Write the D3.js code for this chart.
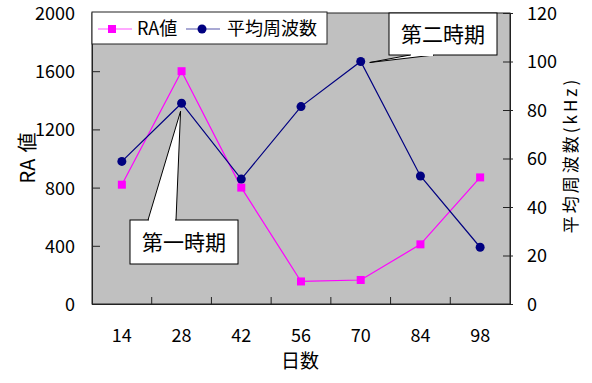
<!DOCTYPE html>
<html>
<head>
<meta charset="utf-8">
<script src="https://cdn.jsdelivr.net/npm/d3@7"></script>
<style>
  html, body { margin: 0; padding: 0; background: #fff; }
  svg { display: block; }
  text { font-family: "Noto Sans CJK JP", "Noto Sans", sans-serif; fill: #000; }
</style>
</head>
<body>
<svg id="chart" width="592" height="383"></svg>
<script>
// Measurement days
const days = ["14", "28", "42", "56", "70", "84", "98"];
// RA value per day (left axis)
const raValues = [820, 1600, 800, 155, 165, 410, 870];
// Average frequency per day in kHz (right axis)
const freqValues = [58.8, 82.8, 51.5, 81.4, 100, 52.8, 23.4];
// Tick labels
const leftTicks = [0, 400, 800, 1200, 1600, 2000];
const rightTicks = [0, 20, 40, 60, 80, 100, 120];

const svg = d3.select("#chart");
const m = { left: 92, right: 510, top: 13, bottom: 304 };

const x = d3.scaleBand().domain(days).range([m.left, m.right]);
const yL = d3.scaleLinear().domain([0, 2000]).range([m.bottom, m.top]);
const yR = d3.scaleLinear().domain([0, 120]).range([m.bottom, m.top]);
const cx = d => x(d) + x.bandwidth() / 2;

// plot area
svg.append("rect")
  .attr("x", m.left).attr("y", m.top)
  .attr("width", m.right - m.left).attr("height", m.bottom - m.top)
  .attr("fill", "#c0c0c0").attr("stroke", "#222").attr("stroke-width", 1);

// left axis
const gL = svg.append("g").attr("transform", `translate(${m.left},0)`)
  .call(d3.axisLeft(yL).tickValues(leftTicks).tickFormat(d3.format("d"))
    .tickSizeInner(-8).tickSizeOuter(0).tickPadding(17));
gL.select(".domain").attr("stroke", "#222");
gL.selectAll(".tick line").attr("stroke", "#222");
gL.selectAll(".tick text").style("font-size", "18px").attr("dy", "0.36em");

// right axis
const gR = svg.append("g").attr("transform", `translate(${m.right},0)`)
  .call(d3.axisRight(yR).tickValues(rightTicks).tickFormat(d3.format("d"))
    .tickSizeInner(3).tickSizeOuter(0).tickPadding(14));
gR.select(".domain").attr("stroke", "#222");
gR.selectAll(".tick line").attr("x1", -7).attr("stroke", "#222");
gR.selectAll(".tick text").style("font-size", "18px").attr("dy", "0.36em");

// bottom axis: tick marks sit on band boundaries, labels in band centres
const gB = svg.append("g").attr("transform", `translate(0,${m.bottom})`)
  .call(d3.axisBottom(x).tickSize(0).tickPadding(25));
gB.select(".domain").attr("stroke", "#222");
gB.selectAll(".tick text").style("font-size", "18px");
gB.selectAll(".sep").data(days.slice(1)).join("line")
  .attr("class", "sep")
  .attr("x1", d => x(d)).attr("x2", d => x(d))
  .attr("y1", 0).attr("y2", -7).attr("stroke", "#222");

// axis titles
const tL = svg.append("text").attr("transform", "translate(28,158) rotate(-90)")
  .attr("text-anchor", "middle").attr("dy", "0.36em").style("font-size", "20px");
tL.append("tspan").text("RA");
tL.append("tspan").attr("dx", 6).text("値");
svg.append("text").attr("transform", "translate(571,155) rotate(-90)")
  .attr("text-anchor", "middle").attr("dy", "0.36em")
  .style("font-size", "17px").style("letter-spacing", "3px").text("平均周波数(kHz)");
svg.append("text").attr("x", 300).attr("y", 368)
  .attr("text-anchor", "middle").style("font-size", "19px").text("日数");

// RA series
const lineL = d3.line().x((d, i) => cx(days[i])).y(d => yL(d));
svg.append("path").datum(raValues).attr("d", lineL)
  .attr("fill", "none").attr("stroke", "#ff00ff").attr("stroke-width", 1.2);
svg.selectAll(".ra").data(raValues).join("rect").attr("class", "ra")
  .attr("x", (d, i) => cx(days[i]) - 4).attr("y", d => yL(d) - 4)
  .attr("width", 8).attr("height", 8).attr("fill", "#ff00ff");

// frequency series
const lineR = d3.line().x((d, i) => cx(days[i])).y(d => yR(d));
svg.append("path").datum(freqValues).attr("d", lineR)
  .attr("fill", "none").attr("stroke", "#000080").attr("stroke-width", 1.2);
svg.selectAll(".fq").data(freqValues).join("circle").attr("class", "fq")
  .attr("cx", (d, i) => cx(days[i])).attr("cy", d => yR(d))
  .attr("r", 4.5).attr("fill", "#000080");

// callouts
function callout(bx, by, bw, bh, base1, base2, tip, label) {
  const g = svg.append("g");
  g.append("path")
    .attr("d", `M${base1[0]},${base1[1]}L${tip[0]},${tip[1]}L${base2[0]},${base2[1]}`)
    .attr("fill", "#fff").attr("stroke", "#000").attr("stroke-width", 1);
  g.append("rect").attr("x", bx).attr("y", by).attr("width", bw).attr("height", bh)
    .attr("fill", "#fff").attr("stroke", "#000").attr("stroke-width", 1);
  // cover the wedge base so the box outline stays open there
  g.append("line")
    .attr("x1", Math.min(base1[0], base2[0]) + 1).attr("x2", Math.max(base1[0], base2[0]) - 1)
    .attr("y1", base1[1]).attr("y2", base2[1])
    .attr("stroke", "#fff").attr("stroke-width", 2);
  g.append("text").attr("x", bx + bw / 2).attr("y", by + bh / 2)
    .attr("dy", "0.36em").attr("text-anchor", "middle")
    .style("font-size", "21px").text(label);
}
const p28 = [cx("28"), yR(freqValues[1])];
callout(130, 220, 108, 44, [148, 220], [176, 220], [p28[0] - 1, p28[1] + 8], "第一時期");
const p70 = [cx("70"), yR(freqValues[4])];
callout(389, 13, 108, 42, [410, 55], [434, 55], [p70[0] + 9, p70[1] + 1], "第二時期");

// legend
const lg = svg.append("g");
lg.append("rect").attr("x", 92).attr("y", 12).attr("width", 235).attr("height", 32)
  .attr("fill", "#fff").attr("stroke", "#222");
lg.append("line").attr("x1", 98).attr("x2", 132).attr("y1", 29).attr("y2", 29)
  .attr("stroke", "#ff55ff").attr("stroke-width", 1.2);
lg.append("rect").attr("x", 108).attr("y", 25).attr("width", 8).attr("height", 8).attr("fill", "#ff00ff");
lg.append("text").attr("x", 137).attr("y", 29).attr("dy", "0.36em")
  .style("font-size", "18px").text("RA値");
lg.append("line").attr("x1", 186).attr("x2", 220).attr("y1", 29).attr("y2", 29)
  .attr("stroke", "#5555aa").attr("stroke-width", 1.2);
lg.append("circle").attr("cx", 202).attr("cy", 29).attr("r", 4.5).attr("fill", "#000080");
lg.append("text").attr("x", 227).attr("y", 29).attr("dy", "0.36em")
  .style("font-size", "18px").text("平均周波数");
</script>
</body>
</html>
